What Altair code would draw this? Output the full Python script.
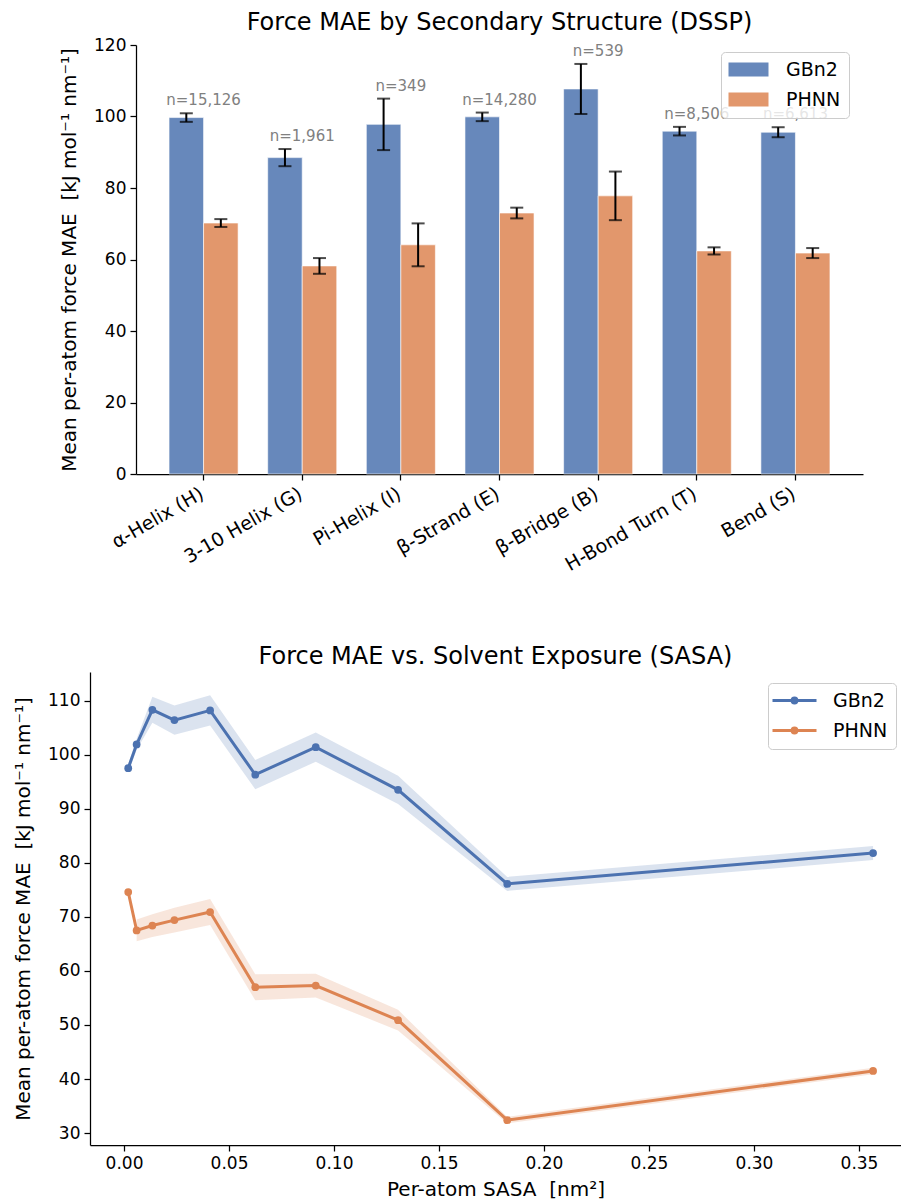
import altair as alt
import pandas as pd

FONT = "DejaVu Sans"

# ---- Panel 1: force MAE by DSSP secondary structure class ----
structures = [
    "α-Helix (H)", "3-10 Helix (G)", "Pi-Helix (I)", "β-Strand (E)",
    "β-Bridge (B)", "H-Bond Turn (T)", "Bend (S)",
]
n_labels = ["n=15,126", "n=1,961", "n=349", "n=14,280", "n=539", "n=8,506", "n=6,613"]
models = ["GBn2", "PHNN"]

gbn2_mae = [99.7, 88.5, 97.8, 99.9, 107.7, 95.9, 95.6]
gbn2_err = [1.2, 2.4, 7.2, 1.2, 7.0, 1.2, 1.4]
phnn_mae = [70.2, 58.2, 64.1, 73.0, 77.8, 62.4, 61.8]
phnn_err = [1.1, 2.2, 6.0, 1.5, 6.8, 1.0, 1.4]

# ---- Panel 2: force MAE against per-atom SASA bins ----
sasa = [0.002, 0.006, 0.0135, 0.024, 0.041, 0.0625, 0.0913, 0.1305, 0.1825, 0.3567]
gbn2_sasa_mae = [97.5, 101.9, 108.3, 106.4, 108.2, 96.3, 101.4, 93.5, 76.1, 81.8]
gbn2_sasa_ci = [0.8, 1.0, 2.4, 2.7, 2.8, 2.7, 2.7, 2.6, 1.3, 1.3]
phnn_sasa_mae = [74.6, 67.5, 68.4, 69.4, 70.9, 57.0, 57.3, 50.9, 32.4, 41.5]
phnn_sasa_ci = [None, 2.0, 2.1, 2.3, 2.4, 2.4, 2.2, 1.9, 0.6, 0.6]

bar_colors = ["#6788BB", "#E2976C"]
line_colors = ["#4C72B0", "#DD8452"]

Y_TITLE = "Mean per-atom force MAE \u00a0[kJ mol⁻¹ nm⁻¹]"

# both panels share one group width; the bar panel's axes are inset
PANEL_W = 811
BAR_LEFT, BAR_RIGHT = 46, 773
TOP_H, BOT_H = 429, 473

# ---------- tables ----------
bar_rows = []
for i, s in enumerate(structures):
    for m, vals, errs in (("GBn2", gbn2_mae, gbn2_err), ("PHNN", phnn_mae, phnn_err)):
        bar_rows.append({"structure": s, "model": m, "mae": vals[i],
                         "lo": vals[i] - errs[i], "hi": vals[i] + errs[i]})
bars_df = pd.DataFrame(bar_rows)
counts_df = pd.DataFrame({
    "structure": structures,
    "label": n_labels,
    "top": [m + e for m, e in zip(gbn2_mae, gbn2_err)],
})

sasa_rows = []
for m, vals, cis in (("GBn2", gbn2_sasa_mae, gbn2_sasa_ci), ("PHNN", phnn_sasa_mae, phnn_sasa_ci)):
    for x, v, c in zip(sasa, vals, cis):
        sasa_rows.append({"sasa": x, "model": m, "mae": v,
                          "lo": None if c is None else v - c,
                          "hi": None if c is None else v + c})
sasa_df = pd.DataFrame(sasa_rows)

# ---------- panel 1 ----------
x_cat = alt.X(
    "structure:N", sort=structures, title=None,
    scale=alt.Scale(range=[BAR_LEFT, BAR_RIGHT], paddingInner=0.3, paddingOuter=0.335),
    axis=alt.Axis(labelAngle=-30, labelAlign="right", labelBaseline="top",
                  labelPadding=4, labelFontSize=19, labelOffset=-6),
)
x_off = alt.XOffset("model:N", sort=models, scale=alt.Scale(paddingInner=0, paddingOuter=0))
y_bar = alt.Y(
    "mae:Q", title=Y_TITLE,
    scale=alt.Scale(domain=[0, 120], nice=False),
    axis=alt.Axis(values=[0, 20, 40, 60, 80, 100, 120], titlePadding=14, offset=-BAR_LEFT),
)
bar_legend = alt.Legend(
    title=None, orient="none", legendX=631, legendY=7,
    symbolType="M-2.857,-1H2.857V1H-2.857Z", symbolSize=196,
    symbolOpacity=1, symbolStrokeWidth=0, symbolOffset=10,
    labelFontSize=19, labelFont=FONT, labelOffset=28, rowPadding=10,
    padding=8, fillColor="rgba(255,255,255,0.8)", strokeColor="#cccccc",
    cornerRadius=4,
)

base1 = alt.Chart(bars_df)
bars = base1.mark_bar(stroke="white", strokeWidth=0.6).encode(
    x=x_cat, xOffset=x_off, y=y_bar,
    color=alt.Color("model:N", sort=models,
                    scale=alt.Scale(domain=models, range=bar_colors), legend=bar_legend),
)
err_rule = base1.mark_rule(color="black", strokeWidth=2).encode(
    x=x_cat, xOffset=x_off, y="lo:Q", y2="hi:Q")
cap_lo = base1.mark_tick(color="black", thickness=2, size=13).encode(
    x=x_cat, xOffset=x_off, y="lo:Q")
cap_hi = base1.mark_tick(color="black", thickness=2, size=13).encode(
    x=x_cat, xOffset=x_off, y="hi:Q")
counts = alt.Chart(counts_df).mark_text(
    color="#808080", fontSize=15, font=FONT, baseline="alphabetic", dy=-8
).encode(x=x_cat, y="top:Q", text="label:N")

top_chart = alt.layer(bars, err_rule, cap_lo, cap_hi, counts).properties(
    width=PANEL_W, height=TOP_H,
    title=alt.TitleParams("Force MAE by Secondary Structure (DSSP)", fontSize=24,
                          font=FONT, fontWeight="normal", offset=1, dx=4),
)

# ---------- panel 2 ----------
x_sasa = alt.X(
    "sasa:Q", title="Per-atom SASA \u00a0[nm²]",
    scale=alt.Scale(domain=[-0.0162, 0.370], nice=False, zero=False),
    axis=alt.Axis(values=[0, 0.05, 0.10, 0.15, 0.20, 0.25, 0.30, 0.35],
                  format=".2f", titlePadding=8),
)
y_sasa_scale = alt.Scale(domain=[27.8, 115.3], nice=False, zero=False)
y_axis2 = alt.Axis(values=[30, 40, 50, 60, 70, 80, 90, 100, 110], titlePadding=14)
line_legend = alt.Legend(
    title=None, orient="none", legendX=678, legendY=11,
    symbolType="M-5.5,0H5.5M-0.6,0A0.6,0.6 0 1,0 0.6,0A0.6,0.6 0 1,0 -0.6,0",
    symbolSize=64, symbolStrokeWidth=3, symbolOpacity=1, symbolOffset=9,
    labelFontSize=19, labelFont=FONT, labelOffset=29, rowPadding=10,
    padding=8, fillColor="rgba(255,255,255,0.8)", strokeColor="#cccccc",
    cornerRadius=4,
)
color2 = alt.Color("model:N", sort=models,
                   scale=alt.Scale(domain=models, range=line_colors), legend=line_legend)

base2 = alt.Chart(sasa_df)
line = base2.mark_line(strokeWidth=3).encode(
    x=x_sasa, y=alt.Y("mae:Q", scale=y_sasa_scale, title=Y_TITLE, axis=y_axis2),
    color=color2)
band = base2.mark_area(fillOpacity=0.2).encode(
    x=x_sasa, y=alt.Y("lo:Q", scale=y_sasa_scale, title=Y_TITLE, axis=y_axis2),
    y2="hi:Q", color=color2)
dots = base2.mark_circle(size=60, opacity=1).encode(
    x=x_sasa, y=alt.Y("mae:Q", scale=y_sasa_scale, title=Y_TITLE, axis=y_axis2),
    color=color2)

bottom_chart = alt.layer(band, line, dots).properties(
    width=PANEL_W, height=BOT_H,
    title=alt.TitleParams("Force MAE vs. Solvent Exposure (SASA)", fontSize=24,
                          font=FONT, fontWeight="normal", offset=3),
)

chart = alt.vconcat(
    top_chart, bottom_chart, spacing=198, bounds="flush",
).resolve_scale(color="independent").properties(
    padding={"left": 13, "top": 11, "right": 0, "bottom": 5}
).configure_view(stroke=None).configure_axis(
    grid=False, domainColor="black", tickColor="black", domainWidth=1.25,
    tickWidth=1.25, tickSize=6, labelFontSize=17, titleFontSize=20,
    labelFont=FONT, titleFont=FONT, labelColor="black", titleColor="black",
    titleFontWeight="normal", labelPadding=4,
).configure_title(color="black", anchor="middle")

chart.save("out.html", embed_options={"renderer": "svg", "actions": False})
